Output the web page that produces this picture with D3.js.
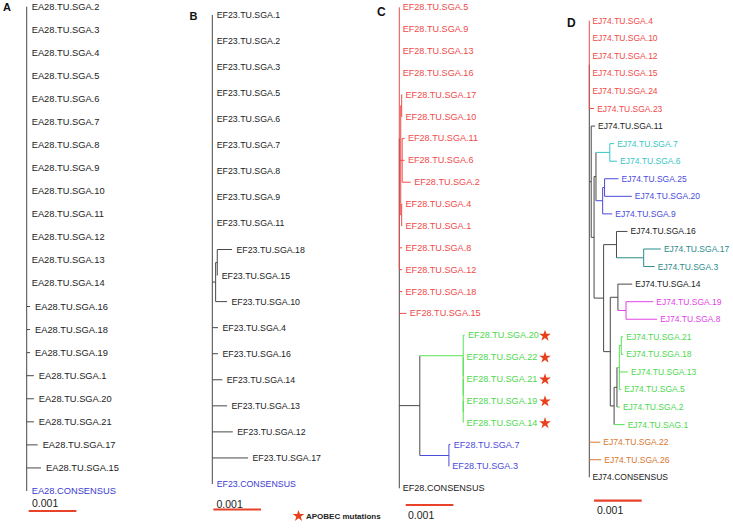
<!DOCTYPE html>
<html><head><meta charset="utf-8">
<script src="https://cdn.jsdelivr.net/npm/d3@7"></script>
<style>body{margin:0;background:#fff}</style>
</head><body><svg id="c" width="733" height="528"></svg>
<script>
// ---------------- Panel A ----------------
const nodesA = ["root","EA28.TU.SGA.2","EA28.TU.SGA.3","EA28.TU.SGA.4","EA28.TU.SGA.5","EA28.TU.SGA.6","EA28.TU.SGA.7","EA28.TU.SGA.8","EA28.TU.SGA.9","EA28.TU.SGA.10","EA28.TU.SGA.11","EA28.TU.SGA.12","EA28.TU.SGA.13","EA28.TU.SGA.14","EA28.TU.SGA.16","EA28.TU.SGA.18","EA28.TU.SGA.19","EA28.TU.SGA.1","EA28.TU.SGA.20","EA28.TU.SGA.21","EA28.TU.SGA.17","EA28.TU.SGA.15","EA28.CONSENSUS"];
const parentsA = ["","root","root","root","root","root","root","root","root","root","root","root","root","root","root","root","root","root","root","root","root","root","root"];
const lengthsA = [0,0,0,0,0,0,0,0,0,0,0,0,0,0,0.00007,0.00007,0.00007,0.00015,0.00015,0.00015,0.00023,0.0003,0];
const groupsA = ["k","k","k","k","k","k","k","k","k","k","k","k","k","k","k","k","k","k","k","k","k","k","cons"];

// ---------------- Panel B ----------------
const nodesB = ["root","EF23.TU.SGA.1","EF23.TU.SGA.2","EF23.TU.SGA.3","EF23.TU.SGA.5","EF23.TU.SGA.6","EF23.TU.SGA.7","EF23.TU.SGA.8","EF23.TU.SGA.9","EF23.TU.SGA.11","b1","b2","EF23.TU.SGA.18","EF23.TU.SGA.15","EF23.TU.SGA.10","EF23.TU.SGA.4","EF23.TU.SGA.16","EF23.TU.SGA.14","EF23.TU.SGA.13","EF23.TU.SGA.12","EF23.TU.SGA.17","EF23.CONSENSUS"];
const parentsB = ["","root","root","root","root","root","root","root","root","root","root","b1","b2","b2","b1","root","root","root","root","root","root","root"];
const lengthsB = [0,0,0,0,0,0,0,0,0,0,0.00007,0.000034,0.00031,0,0.00024,0.00012,0.00012,0.00021,0.00031,0.00043,0.00075,0];
const groupsB = ["k","k","k","k","k","k","k","k","k","k","k","k","k","k","k","k","k","k","k","k","k","cons"];

// ---------------- Panel C ----------------
const nodesC = ["root","red","EF28.TU.SGA.5","EF28.TU.SGA.9","EF28.TU.SGA.13","EF28.TU.SGA.16","ra","rb","EF28.TU.SGA.17","EF28.TU.SGA.10","rc","EF28.TU.SGA.11","EF28.TU.SGA.6","EF28.TU.SGA.2","rd","EF28.TU.SGA.4","EF28.TU.SGA.1","EF28.TU.SGA.8","EF28.TU.SGA.12","EF28.TU.SGA.18","EF28.TU.SGA.15","m","g1","EF28.TU.SGA.20","g2","EF28.TU.SGA.22","g3","EF28.TU.SGA.21","g4","EF28.TU.SGA.19","EF28.TU.SGA.14","bl","EF28.TU.SGA.7","EF28.TU.SGA.3","EF28.CONSENSUS"];
const parentsC = ["","root","red","red","red","red","red","ra","rb","rb","ra","rc","rc","rc","ra","rd","rd","red","red","root","root","root","m","g1","g1","g2","g2","g3","g3","g4","g4","m","bl","bl","root"];
const lengthsC = [0,0,0,0,0,0,0.00003,0.00002,0.00001,0.00001,0.00003,0.00005,0.00005,0.00018,0.00002,0.00001,0.00001,0.00006,0.00006,0.00006,0.00015,0.00043,0.00091,0.00003,0,0,0,0,0,0,0,0.00061,0.00003,0,0];
const groupsC = ["k","red","red","red","red","red","red","red","red","red","red","red","red","red","red","red","red","red","red","red","red","k","green","green","green","green","green","green","green","green","green","blue","blue","blue","k"];
const apobecC = ["EF28.TU.SGA.20","EF28.TU.SGA.22","EF28.TU.SGA.21","EF28.TU.SGA.19","EF28.TU.SGA.14"];

// ---------------- Panel D ----------------
const nodesD = ["root","red","EJ74.TU.SGA.4","EJ74.TU.SGA.10","EJ74.TU.SGA.12","EJ74.TU.SGA.15","EJ74.TU.SGA.24","EJ74.TU.SGA.23","l1","EJ74.TU.SGA.11","l2","p1","cy","EJ74.TU.SGA.7","EJ74.TU.SGA.6","bb1","bb2","EJ74.TU.SGA.25","EJ74.TU.SGA.20","EJ74.TU.SGA.9","p3","k1","EJ74.TU.SGA.16","te","EJ74.TU.SGA.17","EJ74.TU.SGA.3","q","k2","EJ74.TU.SGA.14","mg","EJ74.TU.SGA.19","EJ74.TU.SGA.8","gg1","gg2","gg3","gg4","EJ74.TU.SGA.21","EJ74.TU.SGA.18","EJ74.TU.SGA.13","EJ74.TU.SGA.5","EJ74.TU.SGA.2","EJ74.TU.SAG.1","EJ74.TU.SGA.22","EJ74.TU.SGA.26","EJ74.CONSENSUS"];
const parentsD = ["","root","red","red","red","red","red","red","root","l1","l1","l2","p1","cy","cy","p1","bb1","bb2","bb2","bb1","l2","p3","k1","k1","te","te","p3","q","k2","k2","mg","mg","q","gg1","gg2","gg3","gg4","gg4","gg3","gg3","gg2","gg1","root","root","root"];
const lengthsD = [0,0,0,0,0,0,0,0.0001,0.00004,0.00008,0.00006,0.00004,0.00029,0.00009,0.00015,0.00014,0.00004,0.00029,0.00057,0.0002,0.0002,0.00027,0.00023,0.00057,0.00036,0.00023,0.00014,0.00016,0.0003,0.00017,0.00057,0.00065,0.00008,0.00006,0.00005,0.00004,0.00004,0.00004,0.00018,0.00004,0.00006,0.00022,0.00023,0.00025,0];
const groupsD = ["k","red","red","red","red","red","red","red","k","k","k","k","cyan","cyan","cyan","blue","blue","blue","blue","blue","k","k","k","teal","teal","teal","k","k","k","mag","mag","mag","k","k","green","green","green","green","green","green","green","green","orange","orange","k"];

const scaleLabel = "0.001";
const legendLabel = "APOBEC mutations";

// ---------------- styles ----------------
const lineColor = {k:"#484848",cons:"#484848",red:"#f04a4a",green:"#55e055",blue:"#4b4bdc",cyan:"#38c6c6",teal:"#2b8c8c",mag:"#e244e6",orange:"#d9772f"};
const textColor = {k:"#222",cons:"#3b3bd2",red:"#f04a4a",green:"#4ed84e",blue:"#4b4bdc",cyan:"#38c6c6",teal:"#2b8c8c",mag:"#e244e6",orange:"#d9772f"};
const FONT = "'Liberation Sans', Arial, Helvetica, sans-serif";
const svg = d3.select("#c");
const pxPerUnit = 47.7; // pixels per 0.001 substitutions/site

function drawPanel(nodes, parents, lengths, groups, cfg) {
  const rows = nodes.map((id, i) => ({id, parent: parents[i], len: lengths[i], group: groups[i]}));
  const root = d3.stratify().id(d => d.id).parentId(d => d.parent)(rows);
  const x = d3.scaleLinear().domain([0, 0.001]).range([cfg.x0, cfg.x0 + pxPerUnit]);
  root.eachBefore(n => { n.dist = n.parent ? n.parent.dist + n.data.len : 0; });
  const leaves = root.leaves();
  const y = d3.scalePoint().domain(leaves.map(d => d.id)).range([cfg.y0, cfg.y1]);
  root.eachAfter(n => {
    n.px = x(n.dist);
    n.py = n.children ? (n.children[0].py + n.children[n.children.length - 1].py) / 2 : y(n.id);
  });
  const g = svg.append("g");
  const all = root.descendants();
  all.forEach(n => {
    if (n.children) {
      const ys = n.children.map(c => c.py);
      g.append("line").attr("x1", n.px).attr("x2", n.px)
        .attr("y1", d3.min(ys)).attr("y2", d3.max(ys))
        .attr("stroke", lineColor[n.data.group]).attr("stroke-width", 1);
    }
    if (n.parent && n.px - n.parent.px > 0.01) {
      g.append("line").attr("x1", n.parent.px).attr("x2", n.px)
        .attr("y1", n.py).attr("y2", n.py)
        .attr("stroke", lineColor[n.data.group]).attr("stroke-width", 1);
    }
  });
  g.selectAll("text.tip").data(leaves).join("text").attr("class", "tip")
    .attr("x", d => d.px + cfg.off).attr("y", d => d.py)
    .attr("dominant-baseline", "central")
    .attr("font-family", FONT).attr("font-size", cfg.fs)
    .attr("fill", d => textColor[d.data.group])
    .text(d => d.id);
  // scale bar
  const barLen = x(0.001) - x(0);
  g.append("line").attr("x1", cfg.bar[0]).attr("x2", cfg.bar[0] + barLen)
    .attr("y1", cfg.bar[1]).attr("y2", cfg.bar[1])
    .attr("stroke", "#e8432a").attr("stroke-width", 2.2);
  g.append("text").attr("x", cfg.barText[0]).attr("y", cfg.barText[1])
    .attr("dominant-baseline", "central").attr("font-family", FONT)
    .attr("font-size", 10.5).attr("fill", "#222").text(scaleLabel);
  // panel letter
  svg.append("text").attr("x", cfg.letter[0]).attr("y", cfg.letter[1])
    .attr("dominant-baseline", "central").attr("font-family", FONT)
    .attr("font-weight", "bold").attr("font-size", cfg.letter[3]).attr("fill", "#111").text(cfg.letter[2]);
  return {root, y, leaves};
}

drawPanel(nodesA, parentsA, lengthsA, groupsA, {x0: 26.7, y0: 6.7, y1: 491, off: 5, fs: 9.3, bar: [28.7, 511], barText: [32, 503], letter: [3, 7, "A", 11]});
drawPanel(nodesB, parentsB, lengthsB, groupsB, {x0: 212.3, y0: 15, y1: 484, off: 4.4, fs: 8.8, bar: [213.3, 509.5], barText: [216.5, 504], letter: [189.5, 16, "B", 11]});
const pc = drawPanel(nodesC, parentsC, lengthsC, groupsC, {x0: 399.3, y0: 7.3, y1: 488.3, off: 3.4, fs: 9.1, bar: [405.7, 505], barText: [408, 515], letter: [377, 11.7, "C", 12]});
drawPanel(nodesD, parentsD, lengthsD, groupsD, {x0: 589.3, y0: 20.7, y1: 477.3, off: 3.1, fs: 8.5, bar: [594, 500.7], barText: [597, 510], letter: [567, 23.3, "D", 12]});

// APOBEC stars next to panel C tips
const star = d3.symbol().type(d3.symbolStar).size(42);
svg.selectAll("path.apobec").data(apobecC).join("path").attr("class", "apobec")
  .attr("d", star).attr("fill", "#e8401c")
  .attr("transform", d => `translate(545,${pc.y(d) + 0.5})`);
// legend
svg.append("path").attr("d", star).attr("fill", "#e8401c").attr("transform", "translate(298.5,516)");
svg.append("text").attr("x", 306).attr("y", 516).attr("dominant-baseline", "central")
  .attr("font-family", FONT).attr("font-weight", "bold").attr("font-size", 8)
  .attr("fill", "#222").text(legendLabel);
</script>
</body></html>
